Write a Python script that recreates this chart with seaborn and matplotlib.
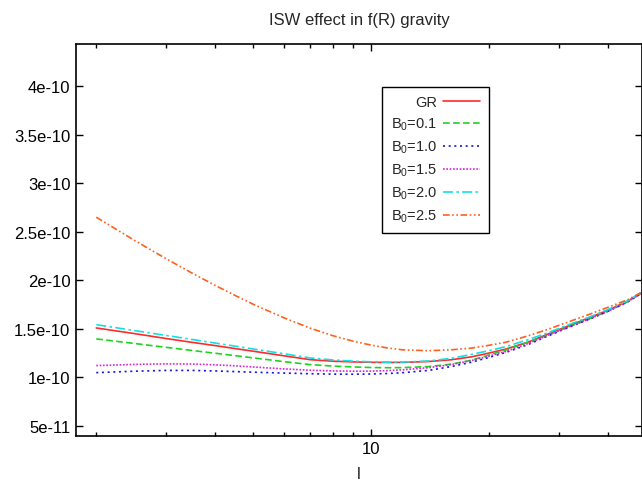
import pandas as pd
import matplotlib
matplotlib.use("Agg")
import matplotlib.pyplot as plt
import matplotlib.ticker as mticker
import seaborn as sns

# multipole l and ISW spectra (units of 1e-10)
ell = [2, 2.5, 3, 3.5, 4, 4.5, 5, 6, 7, 8, 9, 10, 11, 12, 14, 16, 18, 20, 22, 25, 28, 32, 36, 40, 45, 50]
gr    = [1.508, 1.45, 1.40, 1.36, 1.327, 1.296, 1.269, 1.221, 1.181, 1.165, 1.158, 1.154, 1.152, 1.153,
         1.162, 1.18, 1.21, 1.25, 1.29, 1.36, 1.44, 1.535, 1.615, 1.69, 1.785, 1.895]
b0_01 = [1.395, 1.348, 1.309, 1.276, 1.248, 1.223, 1.20, 1.161, 1.13, 1.115, 1.106, 1.10, 1.098, 1.099,
         1.11, 1.135, 1.175, 1.23, 1.28, 1.36, 1.43, 1.525, 1.605, 1.68, 1.78, 1.895]
b0_10 = [1.047, 1.062, 1.07, 1.07, 1.065, 1.058, 1.052, 1.043, 1.036, 1.032, 1.031, 1.033, 1.038, 1.046,
         1.07, 1.11, 1.155, 1.205, 1.255, 1.335, 1.42, 1.518, 1.60, 1.678, 1.778, 1.893]
b0_15 = [1.12, 1.132, 1.138, 1.136, 1.128, 1.118, 1.106, 1.086, 1.072, 1.065, 1.062, 1.063, 1.068, 1.076,
         1.098, 1.13, 1.172, 1.218, 1.265, 1.345, 1.428, 1.522, 1.602, 1.68, 1.78, 1.895]
b0_20 = [1.542, 1.481, 1.432, 1.39, 1.353, 1.321, 1.292, 1.242, 1.199, 1.178, 1.166, 1.159, 1.156, 1.156,
         1.167, 1.195, 1.235, 1.275, 1.315, 1.385, 1.455, 1.545, 1.622, 1.697, 1.79, 1.90]
b0_25 = [2.65, 2.412, 2.226, 2.075, 1.95, 1.845, 1.755, 1.613, 1.506, 1.428, 1.372, 1.331, 1.302, 1.283,
         1.273, 1.283, 1.30, 1.33, 1.36, 1.425, 1.49, 1.575, 1.65, 1.72, 1.80, 1.90]

labels = ["GR", "B$_0$=0.1", "B$_0$=1.0", "B$_0$=1.5", "B$_0$=2.0", "B$_0$=2.5"]
series = [gr, b0_01, b0_10, b0_15, b0_20, b0_25]
colors = ["#ff2a2a", "#1ed41e", "#1414e0", "#e020e0", "#10e0e8", "#ff6020"]
styles = ["-", (0, (4, 2)), (0, (1.2, 2.2)), (0, (1, 1)), (0, (6, 2, 1.5, 2)), (0, (4, 1.5, 1, 1.5, 1, 1.5))]

ytick_vals = [5e-11, 1e-10, 1.5e-10, 2e-10, 2.5e-10, 3e-10, 3.5e-10, 4e-10]
ytick_labels = ["5e-11", "1e-10", "1.5e-10", "2e-10", "2.5e-10", "3e-10", "3.5e-10", "4e-10"]

sns.set_theme(style="ticks")
plt.rcParams["font.family"] = ["Liberation Sans", "DejaVu Sans"]
plt.rcParams["mathtext.default"] = "regular"

fig = plt.figure(figsize=(6.42, 4.89), dpi=100)
ax = fig.add_axes([0.1184, 0.107, 0.8816, 0.8016])

for lab, vals, c, ls in zip(labels, series, colors, styles):
    df = pd.DataFrame({"l": ell, "cl": [v * 1e-10 for v in vals]})
    sns.lineplot(data=df, x="l", y="cl", ax=ax, color=c, linestyle=ls,
                 linewidth=1.2, label=lab)

ax.set_xscale("log")
ax.set_xlim(1.776, 48.9)
ax.set_ylim(3.97e-11, 4.44e-10)

ax.xaxis.set_major_locator(mticker.FixedLocator([10]))
ax.xaxis.set_major_formatter(mticker.FixedFormatter(["10"]))
ax.xaxis.set_minor_locator(mticker.FixedLocator([2, 3, 4, 5, 6, 7, 8, 9, 20, 30, 40]))
ax.xaxis.set_minor_formatter(mticker.NullFormatter())
ax.set_yticks(ytick_vals)
ax.set_yticklabels(ytick_labels)

ax.tick_params(axis="both", which="both", direction="in", top=True, right=True,
               labelsize=12, colors="black")
ax.tick_params(axis="both", which="major", length=5, width=1, pad=4)
ax.tick_params(axis="both", which="minor", length=3, width=1)
for s in ax.spines.values():
    s.set_linewidth(1.2)
    s.set_color("black")

ax.set_xlabel("l", fontsize=12, labelpad=7)
ax.set_ylabel("")
ax.set_title("ISW effect in f(R) gravity", fontsize=12, pad=14)

leg = ax.legend(loc="upper right", bbox_to_anchor=(0.742, 0.909), markerfirst=False,
                fontsize=10.5, handlelength=2.5, labelspacing=0.45, fancybox=False,
                framealpha=1, edgecolor="black", borderpad=0.6, handletextpad=0.45)
leg.get_frame().set_linewidth(1.0)

fig.savefig("out.png", dpi=100)
